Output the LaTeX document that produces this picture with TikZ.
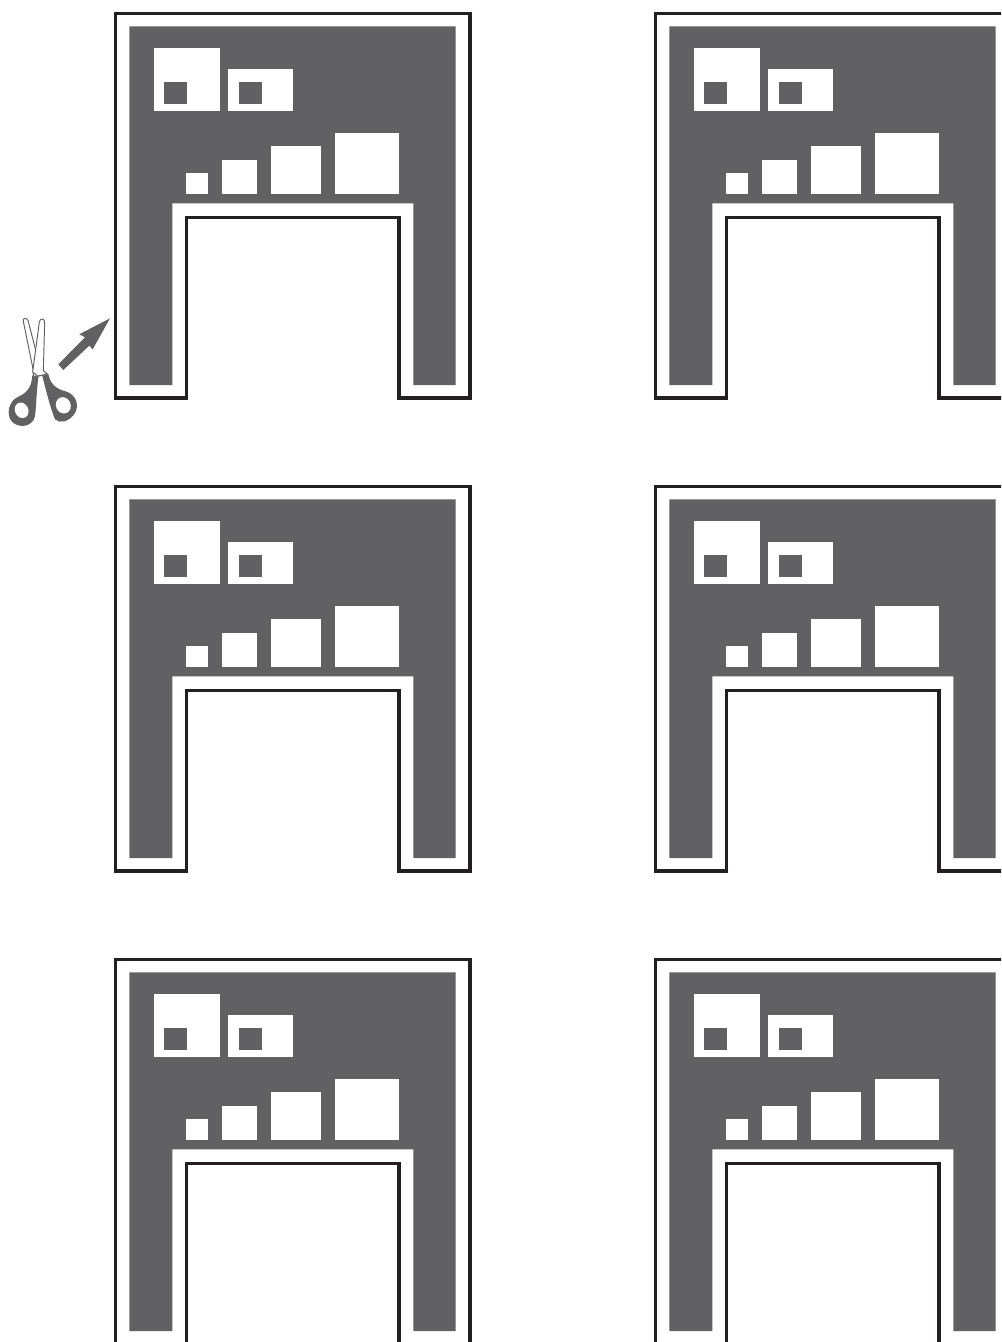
\documentclass[tikz,border=0pt]{standalone}
\usepackage{xcolor}
\definecolor{bayfill}{HTML}{616163}
\definecolor{bayline}{HTML}{231F20}
\tikzset{
  baywall/.style={fill=bayfill},
  baybox/.style={fill=white},
  bayframe/.style={draw=bayline,line width=2.5pt,line join=miter},
  doorbay/.pic={
    \fill[baywall] (129.3,26.3) -- (455.7,26.3) -- (455.7,385) -- (413.3,385) -- (413.3,203.3)
      -- (172.3,203.3) -- (172.3,385) -- (129.3,385) -- cycle;
    \draw[bayframe] (186.5,398) -- (186.5,217.5) -- (399,217.5) -- (399,398) -- (470,398)
      -- (470,13.5) -- (115.5,13.5) -- (115.5,398) -- cycle;
    % upper boxes
    \fill[baybox] (154.3,48.3) rectangle (219.7,110.7);
    \fill[baybox] (227.7,69) rectangle (292.7,110.7);
    \fill[baywall] (164,82) rectangle (187,104);
    \fill[baywall] (239,82) rectangle (262,104);
    % row on the shelf
    \fill[baybox] (186.3,173.3) rectangle (207.7,194);
    \fill[baybox] (222,160) rectangle (257.3,194);
    \fill[baybox] (271.3,146.3) rectangle (321.3,194);
    \fill[baybox] (335.3,132.7) rectangle (399,194);
  }
}
\begin{document}
\begin{tikzpicture}[x=0.75pt,y=-0.75pt]
  \useasboundingbox (0,0) rectangle (1001,1342);
  \clip (0,0) rectangle (1001,1342);
  \foreach \col in {0,540}
    \foreach \row in {0,473,946}
      \pic at (\col,\row) {doorbay};
  % arrow
  \fill[bayfill] (58.3,364.3) -- (85,337.3) -- (79.3,334.3) -- (110,318.3) -- (92.7,349.3) -- (89.3,345.7) -- (63.3,370) -- cycle;
  % scissors
  \begin{scope}[shift={(5,368)},x=0.25pt,y=-0.25pt]
    \fill[bayfill] (82,22) .. controls (80,50) and (72,72) .. (42,85)
      .. controls (10,98) and (3,140) .. (20,160) .. controls (40,182) and (82,178) .. (90,145)
      .. controls (94,115) and (94,70) .. (101,22) -- cycle;
    \fill[bayfill] (130,18) .. controls (135,45) and (150,62) .. (182,70)
      .. controls (216,80) and (226,118) .. (205,142) .. controls (190,160) and (165,168) .. (150,154)
      .. controls (138,125) and (122,65) .. (112,24) -- cycle;
    \fill[white] (50,127) circle[x radius=20,y radius=24,rotate=25];
    \fill[white] (175,112) circle[x radius=22,y radius=25,rotate=25];
    \draw[bayfill,line width=0.7pt,fill=white] (85,8) -- (55,-140) .. controls (52,-150) and (65,-152) .. (69,-143)
      -- (108,8) -- (125,20) -- (100,24) -- (85,24) -- cycle;
    \draw[bayfill,line width=0.7pt,fill=white] (83,12) -- (103,-138) .. controls (105,-150) and (118,-150) .. (119,-138)
      -- (115,8) -- (127,18) -- (108,22) -- (98,24) -- cycle;
  \end{scope}
\end{tikzpicture}
\end{document}
